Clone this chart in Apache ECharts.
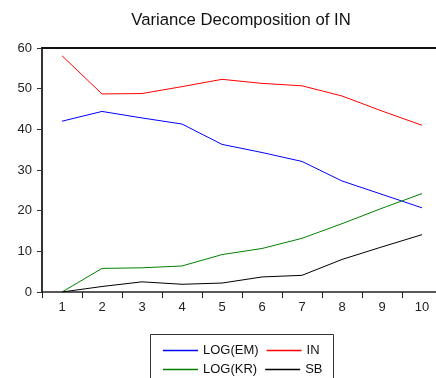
<!DOCTYPE html>
<html><head><meta charset="utf-8">
<script src="https://cdn.jsdelivr.net/npm/echarts@6/dist/echarts.min.js"></script>
<style>html,body{margin:0;padding:0;background:#fff}#c{width:436px;height:378px}</style>
</head><body><div id="c"></div>
<script>
const categories = ['1','2','3','4','5','6','7','8','9','10'];
const logEM = [42.0, 44.4, 42.8, 41.3, 36.3, 34.3, 32.1, 27.3, 24.0, 20.7];
const inVal = [58.1, 48.7, 48.8, 50.5, 52.3, 51.3, 50.7, 48.2, 44.5, 41.0];
const logKR = [0.0, 5.8, 5.95, 6.4, 9.2, 10.7, 13.2, 16.8, 20.6, 24.2];
const sb = [0.0, 1.35, 2.5, 1.9, 2.2, 3.7, 4.1, 8.0, 11.1, 14.1];
const yTicks = [0, 10, 20, 30, 40, 50, 60];

const chart = echarts.init(document.getElementById('c'), null, {renderer:'canvas'});
const font = 'Liberation Sans, Arial, sans-serif';
function ser(name, data, color){
  return {name, type:'line', data, symbol:'none', smooth:false, silent:true,
    lineStyle:{color, width:1}, itemStyle:{color}};
}
chart.setOption({
  animation:false,
  textStyle:{fontFamily:font},
  title:{text:'Variance Decomposition of IN', left:236, top:7, textAlign:'center',
    textStyle:{fontSize:16.7, fontWeight:'normal', color:'#111', fontFamily:font}},
  grid:{left:42, top:48, width:400, bottom:86, containLabel:false, outerBoundsMode:'none'},
  xAxis:[{type:'category', data:categories, boundaryGap:true,
    axisLine:{lineStyle:{color:'#222', width:1.5}},
    axisTick:{show:true, length:6, inside:false, lineStyle:{color:'#222'}},
    axisLabel:{color:'#222', fontSize:13, margin:9, fontFamily:font}},
   {type:'category', data:categories, position:'top', boundaryGap:true,
    axisLine:{show:true, lineStyle:{color:'#111', width:2}},
    axisTick:{show:false}, axisLabel:{show:false}}],
  yAxis:{type:'value', min:yTicks[0], max:yTicks[yTicks.length-1], interval:10,
    axisLine:{show:true, lineStyle:{color:'#333', width:2}},
    axisTick:{show:true, length:5, lineStyle:{color:'#333'}},
    splitLine:{show:false},
    axisLabel:{color:'#222', fontSize:13, margin:10, fontFamily:font}},
  legend:[{data:['LOG(EM)','IN'], left:158, top:339, orient:'horizontal',
    itemWidth:35, itemHeight:1.3, itemGap:8, icon:'rect',
    textStyle:{fontSize:13, color:'#111', width:62, fontFamily:font}, selectedMode:false},
   {data:['LOG(KR)','SB'], left:158, top:358, orient:'horizontal',
    itemWidth:35, itemHeight:1.3, itemGap:8, icon:'rect',
    textStyle:{fontSize:13, color:'#111', width:62, fontFamily:font}, selectedMode:false}],
  graphic:[{type:'rect', shape:{x:150.5, y:334.5, width:183, height:50},
    style:{fill:'none', stroke:'#333', lineWidth:1}, silent:true}],
  series:[ser('LOG(EM)', logEM, '#0000ff'), ser('IN', inVal, '#ff0000'),
          ser('LOG(KR)', logKR, '#008000'), ser('SB', sb, '#000000')]
});
</script></body></html>
